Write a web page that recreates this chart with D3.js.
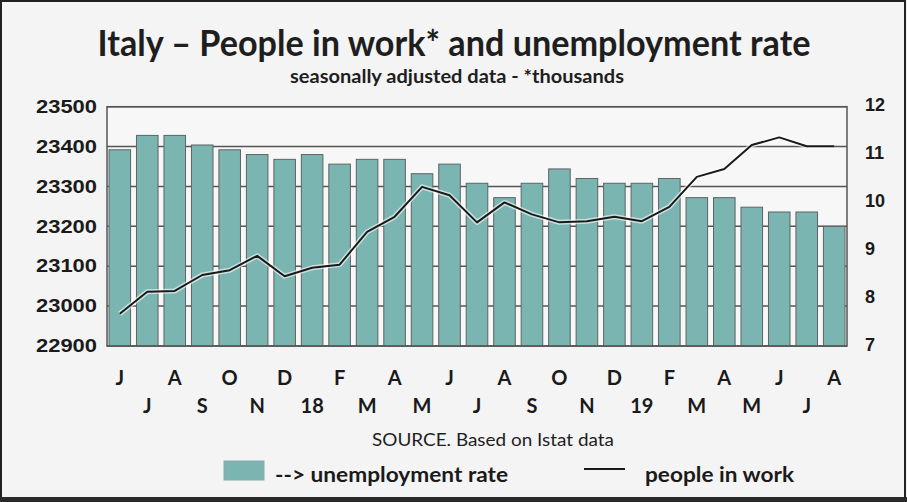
<!DOCTYPE html>
<html>
<head>
<meta charset="utf-8">
<script src="https://cdn.jsdelivr.net/npm/d3@7"></script>
<style>
  html, body { margin: 0; padding: 0; background: #f4f4f4; }
  svg { display: block; }
</style>
</head>
<body>
<svg id="chart" width="907" height="502"></svg>
<script>
// ---- data ----
const months = ["J","J","A","S","O","N","D","18","F","M","A","M","J","J","A","S","O","N","D","19","F","M","A","M","J","J","A"];
const unemploymentRate = [11.1, 11.4, 11.4, 11.2, 11.1, 11.0, 10.9, 11.0, 10.8, 10.9, 10.9, 10.6, 10.8, 10.4, 10.1, 10.4, 10.7, 10.5, 10.4, 10.4, 10.5, 10.1, 10.1, 9.9, 9.8, 9.8, 9.5];
const peopleInWork = [22981, 23036, 23038, 23078, 23090, 23126, 23075, 23096, 23104, 23186, 23224, 23299, 23278, 23210, 23260, 23230, 23210, 23213, 23224, 23213, 23249, 23324, 23344, 23404, 23423, 23401, 23401];
const leftTicks = [22900, 23000, 23100, 23200, 23300, 23400, 23500];
const rightTicks = [7, 8, 9, 10, 11, 12];

const titleText = "Italy \u2013 People in work* and unemployment rate";
const subtitleText = "seasonally adjusted data - *thousands";
const sourceText = "SOURCE. Based on Istat data";
const legendBars = "--> unemployment rate";
const legendLine = "people in work";

// ---- layout ----
const W = 907, H = 502;
const plot = { left: 107, right: 847, top: 106.7, bottom: 346 };
const barFill = "#7ab5b2", barStroke = "#5e6462", gridColor = "#555";

const svg = d3.select("#chart");

// background + frame
svg.append("rect").attr("x", 0).attr("y", 0).attr("width", W).attr("height", H).attr("fill", "#f4f4f4");
svg.append("rect").attr("x", 1).attr("y", 1).attr("width", W - 3).attr("height", H - 5)
   .attr("fill", "none").attr("stroke", "#222").attr("stroke-width", 2);
svg.append("rect").attr("x", 0).attr("y", H - 5).attr("width", W).attr("height", 5).attr("fill", "#2a2a2a");

// scales
const x = d3.scaleBand().domain(d3.range(months.length))
  .range([plot.left, plot.right]).paddingInner(0.215).paddingOuter(0.073);
const yL = d3.scaleLinear().domain([22900, 23500]).range([plot.bottom, plot.top]);
const yR = d3.scaleLinear().domain([7, 12]).range([plot.bottom, plot.top]);

// plot background
svg.append("rect").attr("x", plot.left).attr("y", plot.top)
  .attr("width", plot.right - plot.left).attr("height", plot.bottom - plot.top)
  .attr("fill", "#f7f7f7");

// gridlines (left axis ticks)
svg.append("g").selectAll("line").data(leftTicks).join("line")
  .attr("x1", plot.left).attr("x2", plot.right)
  .attr("y1", d => yL(d)).attr("y2", d => yL(d))
  .attr("stroke", gridColor).attr("stroke-width", 1.5);

// bars
svg.append("g").selectAll("rect").data(unemploymentRate).join("rect")
  .attr("x", (d, i) => x(i)).attr("width", x.bandwidth())
  .attr("y", d => yR(d)).attr("height", d => yR(7) - yR(d))
  .attr("fill", barFill).attr("stroke", barStroke).attr("stroke-width", 1);

// plot border
svg.append("rect").attr("x", plot.left).attr("y", plot.top)
  .attr("width", plot.right - plot.left).attr("height", plot.bottom - plot.top)
  .attr("fill", "none").attr("stroke", "#555").attr("stroke-width", 1.5);

// line
const line = d3.line().x((d, i) => x(i) + x.bandwidth() / 2).y(d => yL(d));
svg.append("path").datum(peopleInWork).attr("d", line)
  .attr("fill", "none").attr("stroke", "#ffffff").attr("stroke-opacity", 0.6)
  .attr("stroke-width", 5).attr("stroke-linejoin", "round");
svg.append("path").datum(peopleInWork).attr("d", line)
  .attr("fill", "none").attr("stroke", "#1a1a1a").attr("stroke-width", 2)
  .attr("stroke-linejoin", "round");

// left axis
const axL = svg.append("g").attr("transform", `translate(${plot.left - 10},0)`)
  .call(d3.axisLeft(yL).tickValues(leftTicks).tickSize(0).tickPadding(0).tickFormat(d3.format("d")));
axL.select(".domain").remove();
axL.selectAll("text").attr("font-family", "'Liberation Sans', Arial, sans-serif")
  .attr("font-weight", "bold").attr("font-size", 18).attr("fill", "#1a1a1a")
  .attr("textLength", 61).attr("lengthAdjust", "spacingAndGlyphs");

// right axis
const axR = svg.append("g").attr("transform", `translate(${plot.right + 18},0)`)
  .call(d3.axisRight(yR).tickValues(rightTicks).tickSize(0).tickPadding(0).tickFormat(d3.format("d")));
axR.select(".domain").remove();
axR.selectAll("text").attr("font-family", "'Liberation Sans', Arial, sans-serif")
  .attr("font-weight", "bold").attr("font-size", 18).attr("fill", "#1a1a1a");
axR.selectAll(".tick").attr("transform", d => `translate(0,${yR(d) - 1})`);

// bottom axis (two rows)
const axB = svg.append("g").attr("transform", `translate(0,${plot.bottom})`)
  .call(d3.axisBottom(x).tickSize(0).tickFormat(i => months[i]));
axB.select(".domain").remove();
axB.selectAll("text")
  .attr("font-family", "Lato, 'Open Sans', sans-serif").attr("font-weight", "bold")
  .attr("font-size", 20).attr("fill", "#1a1a1a")
  .attr("dy", null)
  .attr("y", (d, i) => i % 2 === 0 ? 39 : 67);

// titles
svg.append("text").attr("x", 454).attr("y", 56).attr("text-anchor", "middle")
  .attr("font-family", "Lato, 'Open Sans', sans-serif").attr("font-weight", "bold")
  .attr("font-size", 37).attr("fill", "#1e1e1e")
  .attr("textLength", 713).attr("lengthAdjust", "spacingAndGlyphs")
  .text(titleText);
svg.append("text").attr("x", 457).attr("y", 83).attr("text-anchor", "middle")
  .attr("font-family", "Lato, 'Open Sans', sans-serif").attr("font-weight", "bold")
  .attr("font-size", 18).attr("fill", "#1e1e1e")
  .attr("textLength", 334).attr("lengthAdjust", "spacingAndGlyphs")
  .text(subtitleText);

// source
svg.append("text").attr("x", 493).attr("y", 446).attr("text-anchor", "middle")
  .attr("font-family", "Lato, 'Open Sans', sans-serif")
  .attr("font-size", 17).attr("fill", "#1e1e1e")
  .attr("textLength", 242).attr("lengthAdjust", "spacingAndGlyphs")
  .text(sourceText);

// legend
const lg = svg.append("g");
lg.append("rect").attr("x", 224).attr("y", 461).attr("width", 40).attr("height", 19)
  .attr("fill", barFill).attr("stroke", "#8aa").attr("stroke-width", 1);
lg.append("text").attr("x", 275).attr("y", 482)
  .attr("font-family", "Lato, 'Open Sans', sans-serif").attr("font-weight", "bold")
  .attr("font-size", 20).attr("fill", "#1a1a1a")
  .attr("textLength", 233).attr("lengthAdjust", "spacingAndGlyphs")
  .text(legendBars);
lg.append("line").attr("x1", 584).attr("x2", 625).attr("y1", 469).attr("y2", 469)
  .attr("stroke", "#1a1a1a").attr("stroke-width", 2);
lg.append("text").attr("x", 645).attr("y", 482)
  .attr("font-family", "Lato, 'Open Sans', sans-serif").attr("font-weight", "bold")
  .attr("font-size", 20).attr("fill", "#1a1a1a")
  .attr("textLength", 149).attr("lengthAdjust", "spacingAndGlyphs")
  .text(legendLine);
</script>
</body>
</html>
